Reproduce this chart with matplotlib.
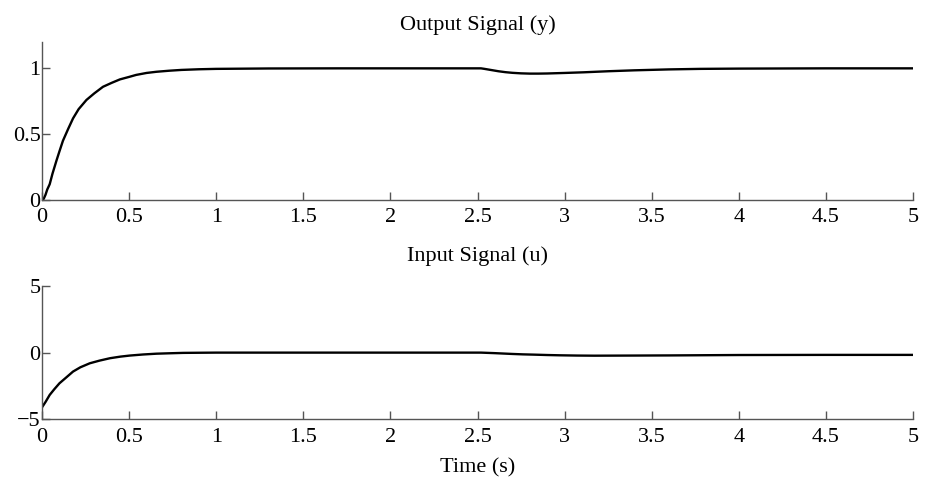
"""Output and input signals of a closed-loop step response with a load disturbance."""

import matplotlib
matplotlib.use("Agg")
import matplotlib.pyplot as plt

# values
t_y = [0, 0.01, 0.02, 0.03, 0.044, 0.06, 0.083, 0.1, 0.12, 0.15, 0.178, 0.21,
       0.255, 0.3, 0.35, 0.4, 0.447, 0.5, 0.54, 0.6, 0.657, 0.73, 0.8, 0.9,
       1.0, 1.3, 1.7, 2.0, 2.52, 2.54, 2.58, 2.62, 2.66, 2.7, 2.75, 2.8, 2.85,
       2.9, 3.0, 3.11, 3.25, 3.4, 3.6, 3.78, 4.0, 4.5, 5.0]
y = [0, 0.01, 0.04, 0.08, 0.12, 0.20, 0.30, 0.37, 0.45, 0.54, 0.62, 0.69,
     0.76, 0.81, 0.86, 0.89, 0.916, 0.935, 0.95, 0.965, 0.974, 0.982, 0.988, 0.993,
     0.996, 0.999, 1.0, 1.0, 1.0, 0.996, 0.987, 0.978, 0.971, 0.966, 0.962, 0.96, 0.96,
     0.961, 0.965, 0.97, 0.978, 0.985, 0.992, 0.996, 0.998, 1.0, 1.0]

t_u = [0, 0.02, 0.044, 0.07, 0.1, 0.14, 0.178, 0.22, 0.274, 0.33, 0.39, 0.45,
       0.504, 0.58, 0.657, 0.73, 0.81, 0.9, 1.0, 1.5, 2.0, 2.52, 2.56, 2.6,
       2.65, 2.7, 2.76, 2.82, 2.9, 2.97, 3.07, 3.17, 3.4, 3.6, 4.0, 4.5, 5.0]
u = [-4.1, -3.7, -3.17, -2.75, -2.3, -1.85, -1.42, -1.1, -0.8, -0.6, -0.42, -0.3,
     -0.22, -0.14, -0.08, -0.05, -0.02, -0.01, 0.0, 0.0, 0.0, 0.0, -0.02, -0.04,
     -0.07, -0.1, -0.13, -0.15, -0.18, -0.2, -0.22, -0.23, -0.22, -0.21, -0.18, -0.17, -0.17]

x_ticks = [0, 0.5, 1, 1.5, 2, 2.5, 3, 3.5, 4, 4.5, 5]
x_tick_labels = ["0", "0.5", "1", "1.5", "2", "2.5", "3", "3.5", "4", "4.5", "5"]
y_ticks = [0, 0.5, 1]
y_tick_labels = ["0", "0.5", "1"]
u_ticks = [-5, 0, 5]
u_tick_labels = ["\u22125", "0", "5"]

plt.rcParams["font.family"] = ["Liberation Serif", "DejaVu Serif"]
plt.rcParams["font.size"] = 16

fig = plt.figure(figsize=(9.28, 4.78), dpi=100)
ax1 = fig.add_axes([0.0453, 0.5816, 0.9385, 0.3305])
ax2 = fig.add_axes([0.0453, 0.1228, 0.9385, 0.2790])


def style(ax):
    for side in ("top", "right"):
        ax.spines[side].set_visible(False)
    for side in ("left", "bottom"):
        ax.spines[side].set_color("#555555")
        ax.spines[side].set_linewidth(1.0)
    ax.tick_params(direction="in", length=6, width=1.0, color="#555555",
                   labelsize=16)
    ax.tick_params(axis="x", pad=6)
    ax.tick_params(axis="y", pad=1)
    ax.set_xlim(0, 5)
    ax.set_xticks(x_ticks)
    ax.set_xticklabels(x_tick_labels)


ax1.plot(t_y, y, color="black", lw=1.7)
style(ax1)
ax1.set_ylim(0, 1.2)
ax1.set_yticks(y_ticks)
ax1.set_yticklabels(y_tick_labels)
ax1.set_title("Output Signal (y)", fontsize=16, pad=9)

ax2.plot(t_u, u, color="black", lw=1.7)
style(ax2)
ax2.set_ylim(-5, 5)
ax2.set_yticks(u_ticks)
ax2.set_yticklabels(u_tick_labels)
ax2.set_title("Input Signal (u)", fontsize=16, pad=18)
ax2.set_xlabel("Time (s)", fontsize=16, labelpad=8)

fig.savefig("out.png", dpi=100)
